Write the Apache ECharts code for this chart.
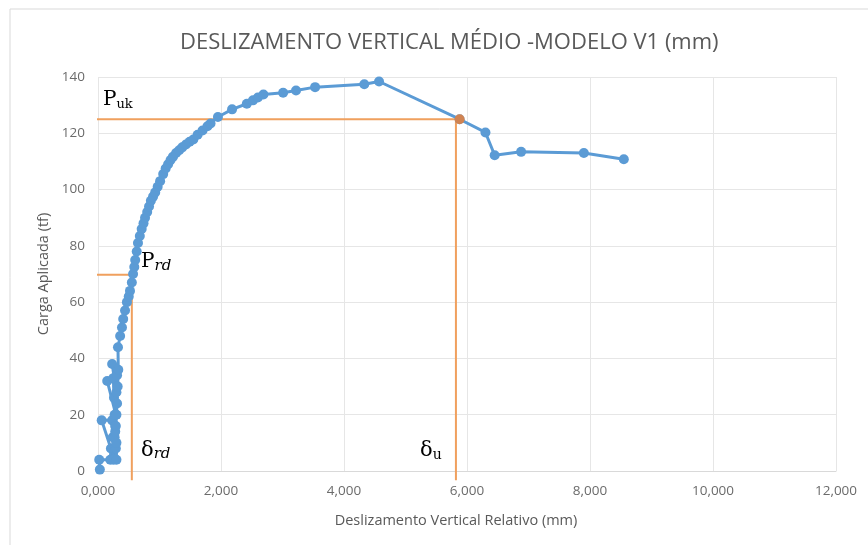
<!DOCTYPE html>
<html>
<head>
<meta charset="utf-8">
<script src="https://cdn.jsdelivr.net/npm/echarts@6/dist/echarts.min.js"></script>
<style>
  html, body { margin:0; padding:0; background:#fff; }
  #chart { width:868px; height:545px; }
</style>
</head>
<body>
<div id="chart"></div>
<script>
// deslizamento (mm) x carga (tf) -- 10 por linha
const slipMM = [
  0.03,0.02,0.20,0.21,0.06,0.23,0.24,0.25,0.26,0.27,
  0.28,0.29,0.15,0.25,0.26,0.27,0.28,0.29,0.30,0.30,
  0.29,0.30,0.31,0.30,0.23,0.31,0.32,0.33,
  0.325,0.36,0.39,0.41,0.44,0.47,0.50,0.52,0.55,0.57,
  0.59,0.605,0.63,0.65,0.68,0.71,0.74,0.765,0.80,0.83,
  0.86,0.896,0.93,0.97,1.01,1.06,1.10,1.14,1.18,1.22,
  1.27,1.32,1.37,1.43,1.49,1.55,1.62,1.70,1.78,1.83,
  1.95,2.18,2.42,2.52,2.60,2.69,3.01,3.22,3.53,4.33,
  4.57,5.88,6.30,6.45,6.88,7.90,8.55];
const loadTF = [
  0.5,4,4,8,18,18,12,4,8,12,
  16,20,32,33,26,20,14,8,4,10,
  16,20,24,28,38,34,30,36,
  44,48,51,54,57,60,62,64,67,70,
  72.5,75,78,81,83.5,86,88,90,92,94,
  96,97.5,99,101,103,105.5,107.5,109,110.5,111.7,
  113,114,115,116,117,117.8,119.5,121,122.5,123.5,
  125.8,128.5,130.5,131.7,132.7,133.8,134.4,135.2,136.4,137.4,
  138.4,125,120.3,112.2,113.4,113,110.8];

// linhas de referencia Puk / Prd
const pukLine = [[-0.11,125],[5.82,125],[5.82,-3.3]];
const prdLine = [[-0.11,69.7],[0.55,69.7],[0.55,-3.3]];
const ultPoint = [[5.88,125]];

const pts = slipMM.map((x,i)=>[x,loadTF[i]]);

const chart = echarts.init(document.getElementById('chart'));
const fmtX = v => v.toFixed(3).replace('.',',');
const serif = 'DejaVu Serif';
const sans = 'Open Sans';

chart.setOption({
  backgroundColor:'#fff',
  animation:false,
  title:{
    text:'DESLIZAMENTO VERTICAL MÉDIO -MODELO V1 (mm)',
    left:175, top:27,
    textStyle:{fontFamily:sans, fontSize:22, fontWeight:'normal', color:'#595959'}
  },
  grid:{left:98, right:32, top:77, bottom:74},
  xAxis:{
    type:'value', min:0, max:12, interval:2,
    name:'Deslizamento Vertical Relativo (mm)', nameLocation:'middle', nameGap:42,
    nameTextStyle:{fontFamily:sans, fontSize:14.5, color:'#595959', padding:[0,22,0,0]},
    axisLine:{show:true, lineStyle:{color:'#D9D9D9'}},
    axisTick:{show:false},
    axisLabel:{formatter:fmtX, margin:13, fontFamily:sans, fontSize:13.5, color:'#6b6b6b'},
    splitLine:{show:true, lineStyle:{color:'#E6E6E6'}}
  },
  yAxis:{
    type:'value', min:0, max:140, interval:20,
    name:'Carga Aplicada (tf)', nameLocation:'middle', nameGap:47,
    nameTextStyle:{fontFamily:sans, fontSize:14.5, color:'#595959'},
    axisLine:{show:false}, axisTick:{show:false},
    axisLabel:{margin:13, fontFamily:sans, fontSize:13.5, color:'#6b6b6b'},
    splitLine:{show:true, lineStyle:{color:'#E6E6E6'}}
  },
  series:[
    {type:'line', data:pukLine, clip:false, symbol:'none', silent:true, z:1,
      lineStyle:{color:'#F0A05E', width:2}},
    {type:'line', data:prdLine, clip:false, symbol:'none', silent:true, z:1,
      lineStyle:{color:'#F0A05E', width:2}},
    {type:'line', data:pts, symbol:'circle', symbolSize:10, z:2,
      itemStyle:{color:'#5B9BD5'},
      lineStyle:{color:'#5B9BD5', width:3}},
    {type:'scatter', data:ultPoint, symbolSize:10, z:3,
      itemStyle:{color:'#ED7D31'}}
  ],
  graphic:[
    {type:'rect', shape:{x:10, y:9, width:880, height:560}, silent:true, z:-1,
      style:{fill:null, stroke:'#D9D9D9', lineWidth:1}},
    {type:'text', left:103, top:90, style:{
      text:'{a|P}{b|uk}', rich:{a:{fontFamily:serif, fontSize:20, fill:'#000'},
        b:{fontFamily:serif, fontSize:13, fill:'#000', padding:[10,0,0,0]}}}},
    {type:'text', left:141, top:252, style:{
      text:'{a|P}{b|rd}', rich:{a:{fontFamily:serif, fontSize:20, fill:'#000'},
        b:{fontFamily:serif, fontStyle:'italic', fontSize:15, fill:'#000', padding:[8,0,0,0]}}}},
    {type:'text', left:141, top:440, style:{
      text:'{a|δ}{b|rd}', rich:{a:{fontFamily:serif, fontSize:21, fill:'#000'},
        b:{fontFamily:serif, fontStyle:'italic', fontSize:15, fill:'#000', padding:[8,0,0,0]}}}},
    {type:'text', left:420, top:440, style:{
      text:'{a|δ}{b|u}', rich:{a:{fontFamily:serif, fontSize:21, fill:'#000'},
        b:{fontFamily:serif, fontSize:14, fill:'#000', padding:[9,0,0,0]}}}}
  ]
});
</script>
</body>
</html>
